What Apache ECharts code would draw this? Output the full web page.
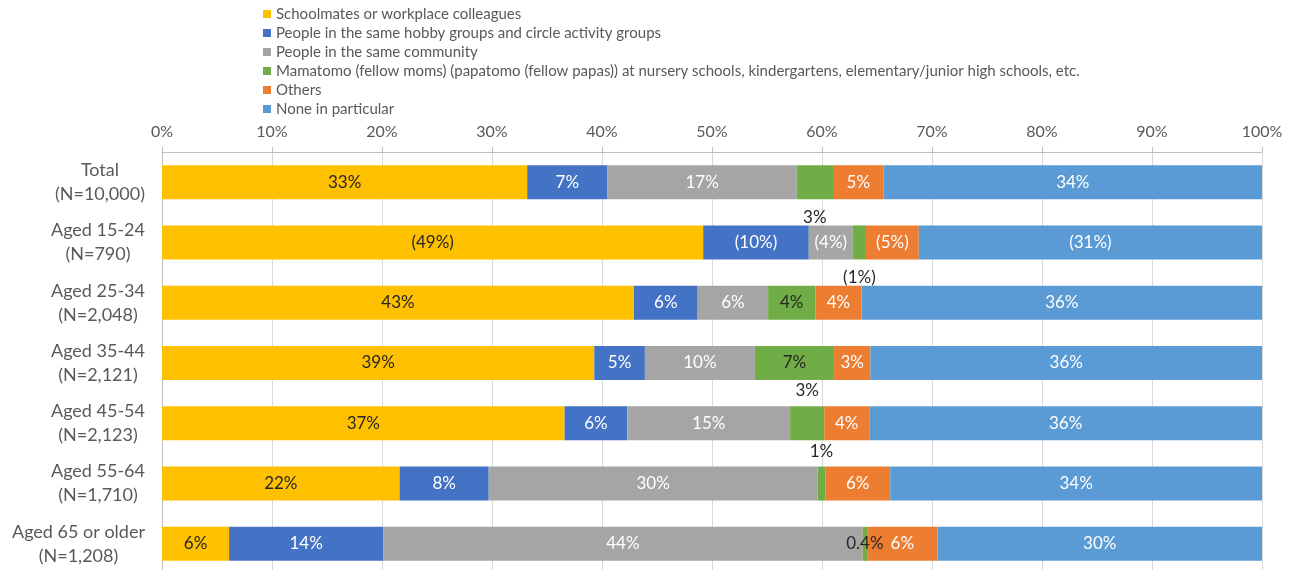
<!DOCTYPE html>
<html>
<head>
<meta charset="utf-8">
<script src="https://cdn.jsdelivr.net/npm/echarts@6/dist/echarts.min.js"></script>
<style>
  html, body { margin: 0; padding: 0; background: #ffffff; }
  #chart { width: 1298px; height: 570px; }
</style>
</head>
<body>
<div id="chart"></div>
<script>
// Respondent groups (top to bottom)
const categories = [
  'Total\n(N=10,000)',
  'Aged 15-24\n(N=790)',
  'Aged 25-34\n(N=2,048)',
  'Aged 35-44\n(N=2,121)',
  'Aged 45-54\n(N=2,123)',
  'Aged 55-64\n(N=1,710)',
  'Aged 65 or older\n(N=1,208)'
];

// Share of respondents (%) per group
const schoolmates      = [33.2, 49.2, 42.9, 39.3, 36.6, 21.6, 6.1];
const hobbyGroups      = [7.3, 9.6, 5.8, 4.6, 5.7, 8.1, 14.0];
const community        = [17.2, 4.0, 6.4, 10.0, 14.8, 29.9, 43.6];
const mamatomo         = [3.3, 1.2, 4.3, 7.2, 3.1, 0.7, 0.4];
const others           = [4.6, 4.8, 4.2, 3.3, 4.1, 5.9, 6.4];
const noneInParticular = [34.4, 31.2, 36.4, 35.6, 35.7, 33.8, 29.5];

const seriesNames = [
  'Schoolmates or workplace colleagues',
  'People in the same hobby groups and circle activity groups',
  'People in the same community',
  'Mamatomo (fellow moms) (papatomo (fellow papas)) at nursery schools, kindergartens, elementary/junior high schools, etc.',
  'Others',
  'None in particular'
];

// Groups with a small sample: values shown in parentheses
const bracketed = [false, true, false, false, false, false, false];
// Where the thin "Mamatomo" labels sit relative to their bar
const mamatomoLabelPos = ['bottom', 'bottom', 'inside', 'inside', 'top', 'top', 'inside'];

const xTickStep = 10;
const FONT = 'Lato, "Noto Sans", sans-serif';
const colors = ['#FFC000', '#4472C4', '#A5A5A5', '#70AD47', '#ED7D31', '#5B9BD5'];
const labelColors = ['#262626', '#ffffff', '#ffffff', '#262626', '#ffffff', '#ffffff'];

function pct(v, i) {
  const r = Math.round(v);
  const s = (r === 0 ? v.toFixed(1) : String(r)) + '%';
  return bracketed[i] ? '(' + s + ')' : s;
}

const valueSets = [schoolmates, hobbyGroups, community, mamatomo, others, noneInParticular];

const series = valueSets.map((vals, k) => ({
  name: seriesNames[k],
  type: 'bar',
  stack: 'all',
  barWidth: 34,
  itemStyle: { color: colors[k] },
  label: {
    show: true,
    position: 'inside',
    color: labelColors[k],
    fontFamily: FONT,
    fontSize: 17,
    formatter: p => pct(p.value, p.dataIndex)
  },
  labelLayout: { hideOverlap: false },
  data: vals.map((v, i) => {
    const pos = mamatomoLabelPos[i];
    if (k === 3 && pos !== 'inside') {
      return { value: v, label: { position: pos, distance: pos === 'bottom' ? 10 : 7, color: '#262626' } };
    }
    return v;
  })
}));

const chart = echarts.init(document.getElementById('chart'), null, { renderer: 'canvas' });
chart.setOption({
  animation: false,
  backgroundColor: '#ffffff',
  textStyle: { fontFamily: FONT },
  legend: {
    orient: 'vertical',
    left: 258,
    top: 1,
    icon: 'rect',
    itemWidth: 8,
    itemHeight: 8,
    itemGap: 3,
    textStyle: { fontSize: 15, color: '#595959', fontFamily: FONT, lineHeight: 16 },
    data: seriesNames
  },
  grid: { left: 162, top: 152, width: 1100, height: 422, containLabel: false, outerBoundsMode: 'none' },
  xAxis: {
    type: 'value',
    position: 'top',
    min: 0,
    max: 100,
    interval: xTickStep,
    axisLine: { show: true, lineStyle: { color: '#bfbfbf' } },
    axisTick: { show: true, length: 5, lineStyle: { color: '#bfbfbf' } },
    axisLabel: { formatter: '{value}%', fontSize: 16, color: '#595959', margin: 12, fontFamily: FONT },
    splitLine: { show: true, lineStyle: { color: '#d9d9d9' } }
  },
  yAxis: {
    type: 'category',
    inverse: true,
    data: categories,
    axisLine: { show: true, lineStyle: { color: '#bfbfbf' } },
    axisTick: { show: false },
    axisLabel: {
      margin: 17,
      align: 'right',
      formatter: v => v.split('\n').map(l => '{c|' + l + '}').join('\n'),
      rich: { c: { align: 'center', fontSize: 18, color: '#595959', fontFamily: FONT, lineHeight: 24 } }
    }
  },
  series: series
});
</script>
</body>
</html>
